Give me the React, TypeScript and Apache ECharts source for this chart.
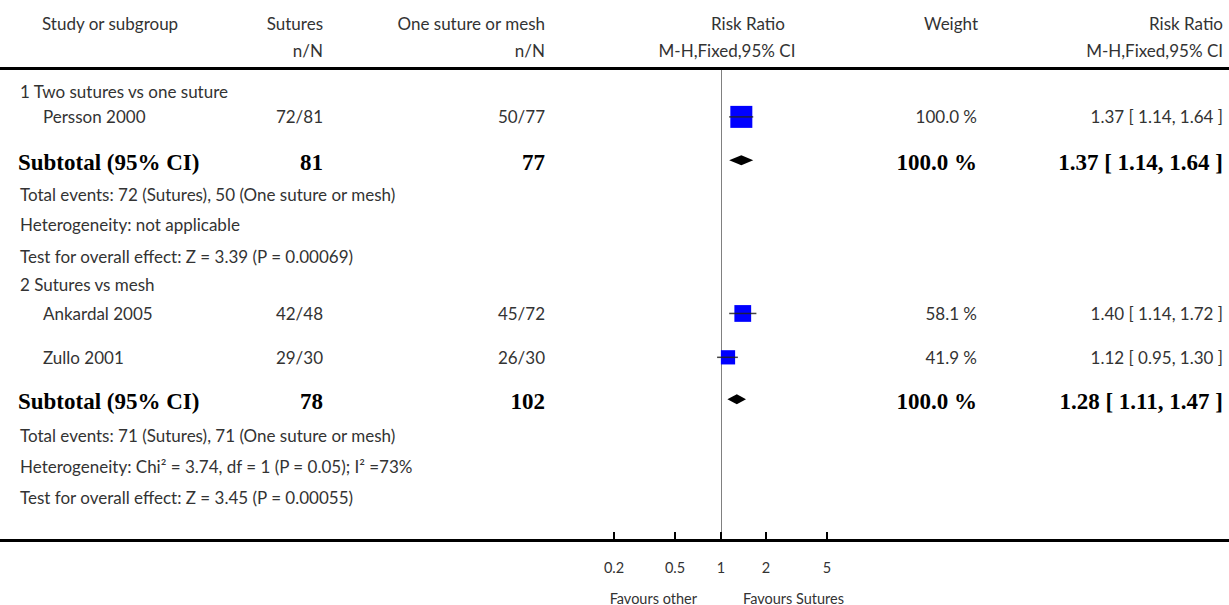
import React, { useEffect, useRef } from "react";
import * as echarts from "echarts";

// ---------- data ----------
const groupTitles = ["1 Two sutures vs one suture", "2 Sutures vs mesh"];
const studyNames = ["Persson 2000", "Ankardal 2005", "Zullo 2001"];
const studySutures = ["72/81", "42/48", "29/30"];
const studyOther = ["50/77", "45/72", "26/30"];
const studyRR = [1.37, 1.4, 1.12];
const studyLo = [1.14, 1.14, 0.95];
const studyHi = [1.64, 1.72, 1.3];
const studyWeight = [100.0, 58.1, 41.9];
const subtotalN1 = [81, 78];
const subtotalN2 = [77, 102];
const subtotalWeight = [100.0, 100.0];
const subtotalRR = [1.37, 1.28];
const subtotalLo = [1.14, 1.11];
const subtotalHi = [1.64, 1.47];
const totalEvents = [
  "Total events: 72 (Sutures), 50 (One suture or mesh)",
  "Total events: 71 (Sutures), 71 (One suture or mesh)",
];
const heterogeneity = [
  "Heterogeneity: not applicable",
  "Heterogeneity: Chi² = 3.74, df = 1 (P = 0.05); I² =73%",
];
const overallTest = [
  "Test for overall effect: Z = 3.39 (P = 0.00069)",
  "Test for overall effect: Z = 3.45 (P = 0.00055)",
];
const tickValues = [0.2, 0.5, 1, 2, 5];
const tickLabels = ["0.2", "0.5", "1", "2", "5"];
const favourLeft = "Favours other";
const favourRight = "Favours Sutures";

// ---------- layout (row positions in row units) ----------
const groupRowY = [0, 6.4];
const studyRowY = [0.85, 7.35, 8.8];
const subtotalRowY = [2.35, 10.25];
const eventsRowY = [3.4, 11.4];
const hetRowY = [4.4, 12.4];
const testRowY = [5.45, 13.45];
const Y_MIN = -0.7;
const Y_MAX = 14.84;

const REG_FONT = "Lato, 'Open Sans', sans-serif";
const BOLD_FONT = "'Liberation Serif', 'Times New Roman', serif";
const REG_COLOR = "#333";
const REG_SIZE = 17;

type Cell = { x: number; text: string; align: "left" | "right" | "center"; bold?: boolean };
type Row = { y: number; cells: Cell[] };

const fmtCI = (r: number, l: number, h: number) =>
  `${r.toFixed(2)} [ ${l.toFixed(2)}, ${h.toFixed(2)} ]`;

function buildRows(): Row[] {
  const rows: Row[] = [];
  const studyIdx = [[0], [1, 2]];
  for (let g = 0; g < 2; g++) {
    rows.push({ y: groupRowY[g], cells: [{ x: 20, text: groupTitles[g], align: "left" }] });
    for (const s of studyIdx[g]) {
      rows.push({
        y: studyRowY[s],
        cells: [
          { x: 43, text: studyNames[s], align: "left" },
          { x: 323, text: studySutures[s], align: "right" },
          { x: 545, text: studyOther[s], align: "right" },
          { x: 977, text: `${studyWeight[s].toFixed(1)} %`, align: "right" },
          { x: 1223, text: fmtCI(studyRR[s], studyLo[s], studyHi[s]), align: "right" },
        ],
      });
    }
    rows.push({
      y: subtotalRowY[g],
      cells: [
        { x: 18, text: "Subtotal (95% CI)", align: "left", bold: true },
        { x: 323, text: String(subtotalN1[g]), align: "right", bold: true },
        { x: 545, text: String(subtotalN2[g]), align: "right", bold: true },
        { x: 977, text: `${subtotalWeight[g].toFixed(1)} %`, align: "right", bold: true },
        { x: 1223, text: fmtCI(subtotalRR[g], subtotalLo[g], subtotalHi[g]), align: "right", bold: true },
      ],
    });
    rows.push({ y: eventsRowY[g], cells: [{ x: 20, text: totalEvents[g], align: "left" }] });
    rows.push({ y: hetRowY[g], cells: [{ x: 20, text: heterogeneity[g], align: "left" }] });
    rows.push({ y: testRowY[g], cells: [{ x: 20, text: overallTest[g], align: "left" }] });
  }
  return rows;
}

function textStyle(text: string, align: string, bold?: boolean, size?: number) {
  return {
    text,
    align,
    textAlign: align,
    verticalAlign: "middle",
    textVerticalAlign: "middle",
    fontFamily: bold ? BOLD_FONT : REG_FONT,
    fontWeight: bold ? "bold" : "normal",
    fontSize: size ?? (bold ? 23 : REG_SIZE),
    fill: bold ? "#000" : REG_COLOR,
  };
}

export default function App() {
  const ref = useRef<HTMLDivElement>(null);
  useEffect(() => {
    document.body.style.margin = "0";
    const chart = echarts.init(ref.current!, null, { renderer: "svg" });
    const rows = buildRows();

    const headerTexts = [
      { x: 42, y: 23, t: "Study or subgroup", a: "left" },
      { x: 323, y: 23, t: "Sutures", a: "right" },
      { x: 323, y: 50, t: "n/N", a: "right" },
      { x: 545, y: 23, t: "One suture or mesh", a: "right" },
      { x: 545, y: 50, t: "n/N", a: "right" },
      { x: 748, y: 23, t: "Risk Ratio", a: "center" },
      { x: 727, y: 50, t: "M-H,Fixed,95% CI", a: "center" },
      { x: 978, y: 23, t: "Weight", a: "right" },
      { x: 1223, y: 23, t: "Risk Ratio", a: "right" },
      { x: 1223, y: 50, t: "M-H,Fixed,95% CI", a: "right" },
    ];

    const option: any = {
      animation: false,
      grid: { left: 614, width: 213, top: 70, height: 470, containLabel: false },
      xAxis: { type: "log", logBase: 10, min: 0.2, max: 5, show: false },
      yAxis: { type: "value", inverse: true, min: Y_MIN, max: Y_MAX, show: false },
      graphic: [
        { type: "rect", shape: { x: 0, y: 67, width: 1229, height: 3 }, style: { fill: "#000" } },
        { type: "rect", shape: { x: 0, y: 539, width: 1229, height: 3 }, style: { fill: "#000" } },
        ...headerTexts.map((h) => ({ type: "text", x: h.x, y: h.y, style: textStyle(h.t, h.a) })),
        { type: "text", x: 697, y: 598, style: textStyle(favourLeft, "right", false, 14.5) },
        { type: "text", x: 743, y: 598, style: textStyle(favourRight, "left", false, 14.5) },
      ],
      series: [
        {
          type: "custom",
          name: "reference",
          data: [[1, Y_MIN, Y_MAX]],
          renderItem: (_p: any, api: any) => {
            const a = api.coord([api.value(0), api.value(1)]);
            const b = api.coord([api.value(0), api.value(2)]);
            return {
              type: "line",
              shape: { x1: Math.round(a[0]) + 0.5, y1: a[1], x2: Math.round(b[0]) + 0.5, y2: b[1] },
              style: { stroke: "#808080", lineWidth: 1 },
            };
          },
        },
        {
          type: "custom",
          name: "table",
          data: rows.map((r, i) => [1, r.y, i]),
          renderItem: (_p: any, api: any) => {
            const r = rows[api.value(2)];
            const y = api.coord([1, r.y])[1];
            return {
              type: "group",
              children: r.cells.map((c) => ({
                type: "text",
                x: c.x,
                y,
                style: textStyle(c.text, c.align, c.bold),
              })),
            };
          },
        },
        {
          type: "custom",
          name: "studies",
          data: studyRR.map((rr, i) => [rr, studyRowY[i], studyLo[i], studyHi[i], studyWeight[i]]),
          renderItem: (_p: any, api: any) => {
            const row = api.value(1);
            const c = api.coord([api.value(0), row]);
            const l = api.coord([api.value(2), row]);
            const h = api.coord([api.value(3), row]);
            const s = Math.sqrt(api.value(4) / 100) * 22;
            return {
              type: "group",
              children: [
                {
                  type: "rect",
                  shape: { x: c[0] - s / 2, y: c[1] - s / 2, width: s, height: s },
                  style: { fill: "#0000ff" },
                },
                {
                  type: "line",
                  shape: { x1: l[0], y1: c[1], x2: h[0], y2: c[1] },
                  style: { stroke: "#222", lineWidth: 1.5, opacity: 0.85 },
                },
              ],
            };
          },
        },
        {
          type: "custom",
          name: "subtotals",
          data: subtotalRR.map((rr, i) => [rr, subtotalRowY[i], subtotalLo[i], subtotalHi[i]]),
          renderItem: (_p: any, api: any) => {
            const row = api.value(1);
            const c = api.coord([api.value(0), row]);
            const l = api.coord([api.value(2), row]);
            const h = api.coord([api.value(3), row]);
            const y = c[1] - 2;
            return {
              type: "polygon",
              shape: { points: [[l[0], y], [c[0], y - 5], [h[0], y], [c[0], y + 5]] },
              style: { fill: "#000" },
            };
          },
        },
        {
          type: "custom",
          name: "ticks",
          data: tickValues.map((v, i) => [v, Y_MAX, i]),
          renderItem: (_p: any, api: any) => {
            const p = api.coord([api.value(0), api.value(1)]);
            const x = Math.round(p[0]);
            return {
              type: "group",
              children: [
                {
                  type: "line",
                  shape: { x1: x, y1: 532, x2: x, y2: 540 },
                  style: { stroke: "#000", lineWidth: 2 },
                },
                {
                  type: "text",
                  x,
                  y: 567,
                  style: textStyle(tickLabels[api.value(2)], "center", false, 14.5),
                },
              ],
            };
          },
        },
      ],
    };
    chart.setOption(option);
    return () => chart.dispose();
  }, []);
  return <div ref={ref} style={{ width: 1229, height: 605 }} />;
}
